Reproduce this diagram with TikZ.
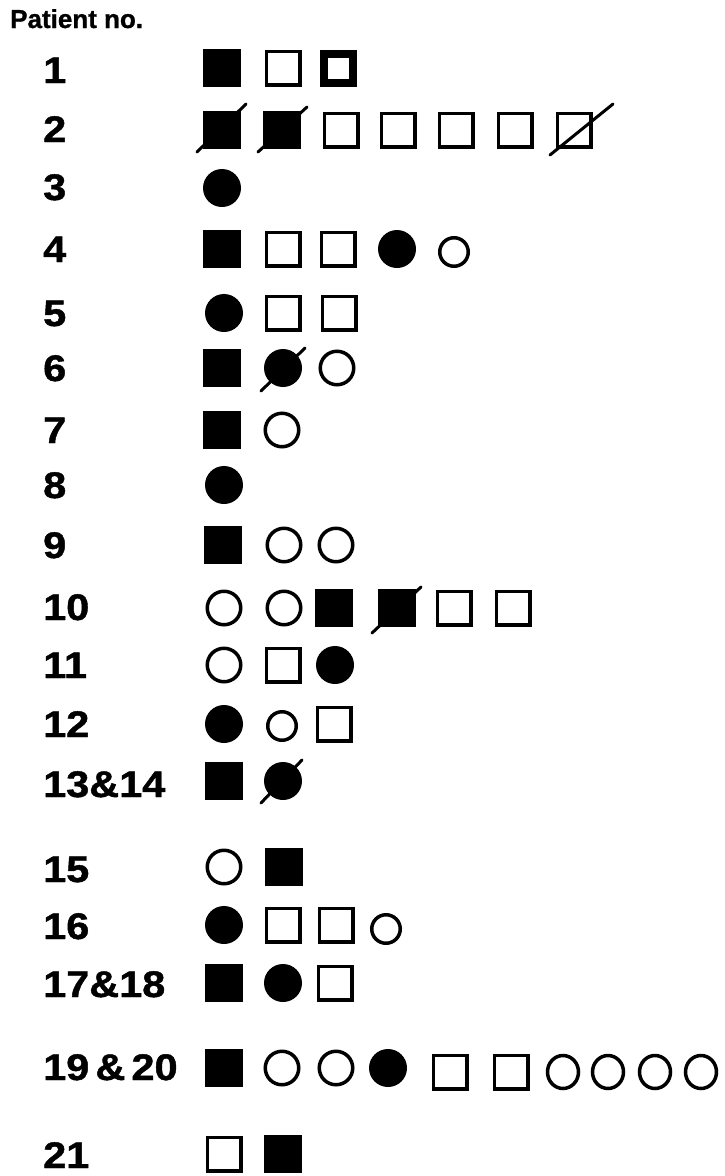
\documentclass[tikz,border=0pt]{standalone}
\usepackage{fontspec}
\setmainfont{Liberation Sans}[BoldFeatures={FakeBold=1}]
\newfontfamily\numfont{Liberation Sans}[FakeStretch=1.12, BoldFeatures={FakeBold=1.2}]
\usepackage{tikz}
\usetikzlibrary{calc}
\tikzset{
  numlabel/.style={anchor=base west, inner sep=0pt, font=\numfont\fontsize{37}{42}\selectfont\bfseries},
  headlabel/.style={anchor=base west, inner sep=0pt, font=\fontsize{26}{30}\selectfont\bfseries},
  fsq/.style={rectangle, fill=black, minimum size=38pt, inner sep=0pt},
  osq/.style={rectangle, draw=black, line width=3.5pt, minimum size=33.5pt, inner sep=0pt},
  tsq/.style={rectangle, draw=black, line width=8pt, minimum size=29pt, inner sep=0pt},
  fci/.style={circle, fill=black, minimum size=38pt, inner sep=0pt},
  oci/.style={circle, draw=black, line width=3.5pt, minimum size=33.5pt, inner sep=0pt},
  mci/.style={ellipse, draw=black, line width=3.5pt, minimum width=31pt, minimum height=33pt, inner sep=0pt},
  sci/.style={circle, draw=black, line width=3.5pt, minimum size=28.5pt, inner sep=0pt},
  slash/.style={draw=black, line width=3pt, line cap=round},
}
\usetikzlibrary{shapes.geometric}

\begin{document}
\begin{tikzpicture}[x=1pt, y=-1pt]
  \useasboundingbox[fill=white] (0,0) rectangle (724,1176);

  \node[headlabel] (head) at (10,28) {Patient no.};

  % row labels
  \node[numlabel] (p1)  at (43,83)   {1};
  \node[numlabel] (p2)  at (43,142)  {2};
  \node[numlabel] (p3)  at (43,200)  {3};
  \node[numlabel] (p4)  at (43,262)  {4};
  \node[numlabel] (p5)  at (43,326)  {5};
  \node[numlabel] (p6)  at (43,381)  {6};
  \node[numlabel] (p7)  at (43,443)  {7};
  \node[numlabel] (p8)  at (43,498)  {8};
  \node[numlabel] (p9)  at (43,558)  {9};
  \node[numlabel] (p10) at (43,620)  {10};
  \node[numlabel] (p11) at (43,678)  {11};
  \node[numlabel] (p12) at (43,737)  {12};
  \node[numlabel] (p13) at (43,797)  {13\&14};
  \node[numlabel] (p15) at (43,882)  {15};
  \node[numlabel] (p16) at (43,939)  {16};
  \node[numlabel] (p17) at (43,997)  {17\&18};
  \node[numlabel] (p19) at (43,1080) {19\,\&\,20};
  \node[numlabel] (p21) at (43,1168) {21};

  % 1
  \node[fsq] (r1a) at (222,68) {};
  \node[osq] (r1b) at (283,68) {};
  \node[tsq] (r1c) at (338,68) {};
  % 2
  \node[fsq] (r2a) at (222,130) {};
  \node[fsq] (r2b) at (282,130) {};
  \node[osq] (r2c) at (341,130) {};
  \node[osq] (r2d) at (398,130) {};
  \node[osq] (r2e) at (456,130) {};
  \node[osq] (r2f) at (515,130) {};
  \node[osq] (r2g) at (574,130) {};
  \draw[slash] ($(r2a.center)+(-25,22)$) -- ($(r2a.center)+(24,-26)$);
  \draw[slash] ($(r2b.center)+(-24,22)$) -- ($(r2b.center)+(25,-23)$);
  \draw[slash] ($(r2g.center)+(-24,25)$) -- ($(r2g.center)+(39,-26)$);
  % 3
  \node[fci] (r3a) at (222,188) {};
  % 4
  \node[fsq] (r4a) at (222,249) {};
  \node[osq] (r4b) at (283,249) {};
  \node[osq] (r4c) at (338,249) {};
  \node[fci] (r4d) at (397,249) {};
  \node[sci] (r4e) at (454,252) {};
  % 5
  \node[fci] (r5a) at (224,313) {};
  \node[osq] (r5b) at (283,313) {};
  \node[osq] (r5c) at (339,313) {};
  % 6
  \node[fsq] (r6a) at (222,368) {};
  \node[fci] (r6b) at (283,368) {};
  \node[oci] (r6c) at (337,368) {};
  \draw[slash] ($(r6b.center)+(-22,23)$) -- ($(r6b.center)+(22,-20)$);
  % 7
  \node[fsq] (r7a) at (222,430) {};
  \node[oci] (r7b) at (282,430) {};
  % 8
  \node[fci] (r8a) at (224,485) {};
  % 9
  \node[fsq] (r9a) at (223,545) {};
  \node[oci] (r9b) at (284,545) {};
  \node[oci] (r9c) at (336,545) {};
  % 10
  \node[oci] (r10a) at (224,608) {};
  \node[oci] (r10b) at (284,608) {};
  \node[fsq] (r10c) at (334,608) {};
  \node[fsq] (r10d) at (397,608) {};
  \node[osq] (r10e) at (454,608) {};
  \node[osq] (r10f) at (513,608) {};
  \draw[slash] ($(r10d.center)+(-25,25)$) -- ($(r10d.center)+(24,-21)$);
  % 11
  \node[oci] (r11a) at (224,665) {};
  \node[osq] (r11b) at (283,665) {};
  \node[fci] (r11c) at (335,665) {};
  % 12
  \node[fci] (r12a) at (224,724) {};
  \node[sci] (r12b) at (282,726) {};
  \node[osq] (r12c) at (334,724) {};
  % 13 & 14
  \node[fsq] (r13a) at (224,781) {};
  \node[fci] (r13b) at (283,781) {};
  \draw[slash] ($(r13b.center)+(-22,22)$) -- ($(r13b.center)+(19,-21)$);
  % 15
  \node[oci] (r15a) at (224,867) {};
  \node[fsq] (r15b) at (284,867) {};
  % 16
  \node[fci] (r16a) at (224,925) {};
  \node[osq] (r16b) at (283,925) {};
  \node[osq] (r16c) at (336,925) {};
  \node[sci] (r16d) at (386,929) {};
  % 17 & 18
  \node[fsq] (r17a) at (224,983) {};
  \node[fci] (r17b) at (283,983) {};
  \node[osq] (r17c) at (335,983) {};
  % 19 & 20
  \node[fsq] (r19a) at (224,1068) {};
  \node[oci] (r19b) at (282,1068) {};
  \node[oci] (r19c) at (336,1068) {};
  \node[fci] (r19d) at (388,1068) {};
  \node[osq] (r19e) at (450,1072) {};
  \node[osq] (r19f) at (511,1072) {};
  \node[mci] (r19g) at (563,1072) {};
  \node[mci] (r19h) at (608,1072) {};
  \node[mci] (r19i) at (655,1072) {};
  \node[mci] (r19j) at (701,1072) {};
  % 21
  \node[osq] (r21a) at (224,1154) {};
  \node[fsq] (r21b) at (283,1154) {};
\end{tikzpicture}
\end{document}
